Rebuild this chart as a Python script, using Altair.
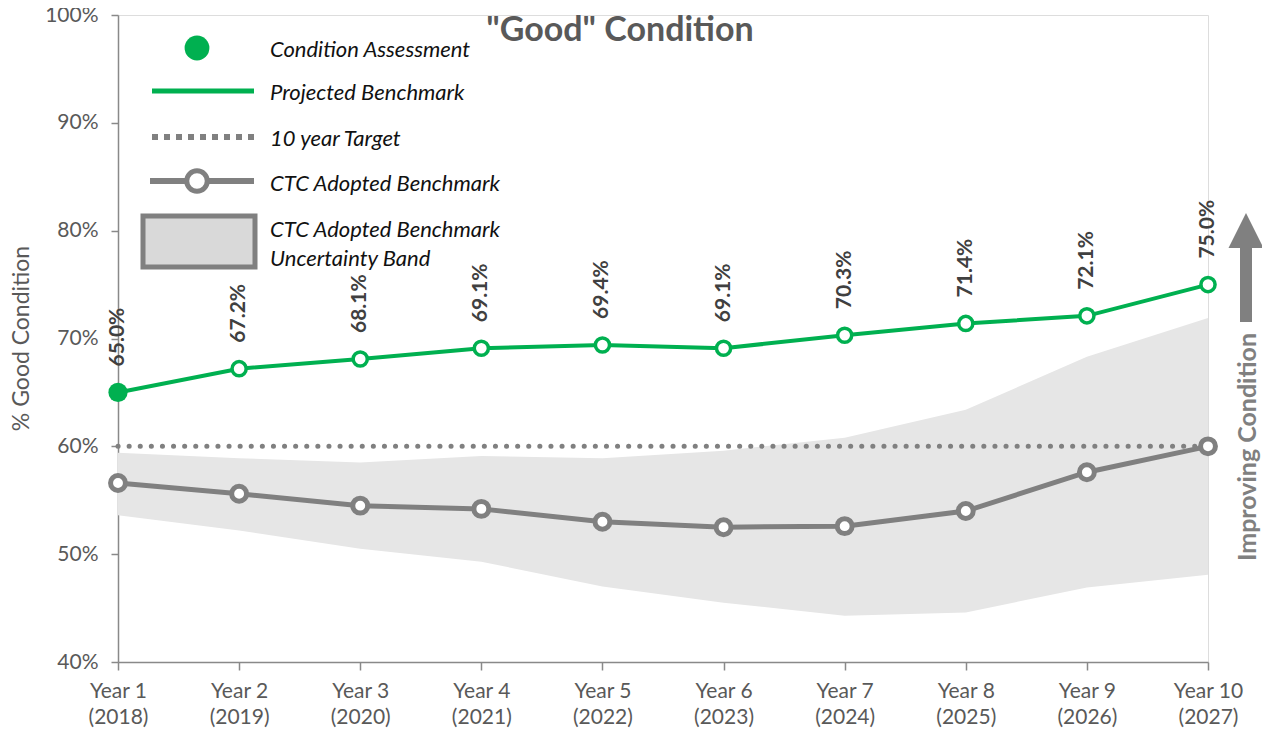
import json
import altair as alt
import pandas as pd

# ---------------- data ----------------
year_labels = ["Year 1", "Year 2", "Year 3", "Year 4", "Year 5",
               "Year 6", "Year 7", "Year 8", "Year 9", "Year 10"]
year_dates = ["(2018)", "(2019)", "(2020)", "(2021)", "(2022)",
              "(2023)", "(2024)", "(2025)", "(2026)", "(2027)"]
projected = [0.650, 0.672, 0.681, 0.691, 0.694, 0.691, 0.703, 0.714, 0.721, 0.750]
ctc = [0.566, 0.556, 0.545, 0.542, 0.530, 0.525, 0.526, 0.540, 0.576, 0.600]
band_hi = [0.594, 0.589, 0.585, 0.591, 0.589, 0.596, 0.608, 0.634, 0.683, 0.719]
band_lo = [0.536, 0.522, 0.505, 0.493, 0.470, 0.455, 0.443, 0.446, 0.469, 0.481]
target = 0.60
y_ticks = [0.4, 0.5, 0.6, 0.7, 0.8, 0.9, 1.0]

legend_labels = ["Condition Assessment", "Projected Benchmark", "10 year Target",
                 "CTC Adopted Benchmark", "CTC Adopted Benchmark", "Uncertainty Band"]
title_text = '"Good" Condition'
arrow_text = "Improving Condition"
y_title = "% Good Condition"

idx = list(range(1, len(year_labels) + 1))
df = pd.DataFrame({"idx": idx, "projected": projected, "ctc": ctc,
                   "hi": band_hi, "lo": band_lo})

GREEN = "#00b050"
GRAY = "#808080"
AXIS = "#898989"
TXT = "#595959"
FONT = "Lato"

lab_expr = ("[" + json.dumps(year_labels) + "[datum.value-1], "
            + json.dumps(year_dates) + "[datum.value-1]]")

x_enc = alt.X("idx:Q", scale=alt.Scale(domain=[1, 10], nice=False, zero=False),
              axis=alt.Axis(values=idx, labelExpr=lab_expr, title=None, grid=False,
                            labelFontSize=21, labelColor=TXT, labelFont=FONT,
                            labelLineHeight=26, labelPadding=10,
                            labelFlush=False, labelOverlap=False, labelBound=False,
                            tickSize=8, tickColor=AXIS, tickWidth=1.5,
                            domainColor=AXIS, domainWidth=1.5))
y_scale = alt.Scale(domain=[0.4, 1.0], nice=False, zero=False)
y_axis = alt.Axis(values=y_ticks, format=".0%", grid=False, title=y_title,
                  labelFontSize=21, labelColor=TXT, labelFont=FONT, labelPadding=13,
                  labelFlush=False, labelOverlap=False, labelBound=False,
                  tickSize=7, tickColor=AXIS, tickWidth=1.5,
                  domainColor=AXIS, domainWidth=1.5,
                  titleFont=FONT, titleFontSize=23, titleFontWeight="normal",
                  titleColor=TXT, titleX=-97, titleY=323, titleAngle=270,
                  titleAlign="center", titleBaseline="middle")

base = alt.Chart(df)

band = base.mark_area(color="#e6e6e6", opacity=1).encode(
    x=x_enc, y=alt.Y("hi:Q", scale=y_scale, axis=y_axis), y2="lo:Q")

tgt = alt.Chart(pd.DataFrame({"t": [target], "a": [idx[0]], "b": [idx[-1]]})).mark_rule(
    color=GRAY, strokeWidth=5, strokeDash=[0.1, 11], strokeCap="round").encode(
    x="a:Q", x2="b:Q", y=alt.Y("t:Q", scale=y_scale))

ctc_line = base.mark_line(color=GRAY, strokeWidth=5).encode(
    x="idx:Q", y=alt.Y("ctc:Q", scale=y_scale))
ctc_pts = base.mark_circle(size=222, fill="white", stroke=GRAY, strokeWidth=5,
                           opacity=1).encode(x="idx:Q", y=alt.Y("ctc:Q", scale=y_scale))

g_line = base.mark_line(color=GREEN, strokeWidth=4).encode(
    x="idx:Q", y=alt.Y("projected:Q", scale=y_scale))
g_pts = base.transform_filter("datum.idx > 1").mark_circle(
    size=200, fill="white", stroke=GREEN, strokeWidth=3.5, opacity=1).encode(
    x="idx:Q", y=alt.Y("projected:Q", scale=y_scale))
g_first = base.transform_filter("datum.idx == 1").mark_circle(
    size=370, fill=GREEN, opacity=1).encode(
    x="idx:Q", y=alt.Y("projected:Q", scale=y_scale))

g_labels = base.mark_text(angle=270, align="left", baseline="middle", dx=26,
                          font=FONT, fontSize=21, fontWeight="bold",
                          color="#404040").encode(
    x="idx:Q", y=alt.Y("projected:Q", scale=y_scale),
    text=alt.Text("projected:Q", format=".1%"))

# ---------------- legend (drawn) ----------------
one = pd.DataFrame({"k": [0]})
lg = alt.Chart(one)
leg_circle = lg.mark_circle(size=615, color=GREEN, opacity=1).encode(
    x=alt.value(79), y=alt.value(33))
leg_green = lg.mark_rule(color=GREEN, strokeWidth=5).encode(
    x=alt.value(34), x2=alt.value(136), y=alt.value(76))
leg_dot = lg.mark_rule(color=GRAY, strokeWidth=6, strokeDash=[6, 6]).encode(
    x=alt.value(34), x2=alt.value(136), y=alt.value(122))
leg_gray = lg.mark_rule(color=GRAY, strokeWidth=6).encode(
    x=alt.value(32), x2=alt.value(136), y=alt.value(166))
leg_gcirc = lg.mark_circle(size=420, fill="white", stroke=GRAY, strokeWidth=5,
                           opacity=1).encode(x=alt.value(79), y=alt.value(166))
leg_rect = lg.mark_rect(fill="#d9d9d9", stroke=GRAY, strokeWidth=5).encode(
    x=alt.value(25), x2=alt.value(137), y=alt.value(201), y2=alt.value(252))

leg_y = [35, 78, 124, 169, 215, 244]
leg_texts = [
    lg.mark_text(text=t, align="left", baseline="middle", font=FONT, fontSize=22,
                 fontStyle="italic", color="#111111").encode(
        x=alt.value(152), y=alt.value(yy))
    for t, yy in zip(legend_labels, leg_y)
]

# ---------------- title & arrow ----------------
title = lg.mark_text(text=title_text, align="center", baseline="middle", font=FONT,
                     fontSize=34, fontWeight="bold", color=TXT).encode(
    x=alt.value(502), y=alt.value(16))
arrow_shaft = lg.mark_rule(color=GRAY, strokeWidth=12).encode(
    x=alt.value(1128), y=alt.value(230), y2=alt.value(307))
arrow_head = lg.mark_point(shape="M0,-1L1,1L-1,1Z", size=1225, filled=True,
                           color=GRAY, opacity=1).encode(
    x=alt.value(1128), y=alt.value(215.5))
arrow_txt = lg.mark_text(text=arrow_text, angle=270, align="center", baseline="middle",
                         font=FONT, fontSize=25, fontWeight="bold", color=GRAY).encode(
    x=alt.value(1130), y=alt.value(432))

chart = alt.layer(
    band, tgt, ctc_line, ctc_pts, g_line, g_pts, g_first, g_labels,
    leg_circle, leg_green, leg_dot, leg_gray, leg_gcirc, leg_rect, *leg_texts,
    title, arrow_shaft, arrow_head, arrow_txt
).properties(
    width=1090, height=647,
    padding={"left": 110, "top": 7, "right": 54, "bottom": 68},
    autosize="none",
).configure_view(stroke=None).configure(background="white")

chart.save("out.html", embed_options={"renderer": "svg", "actions": False})
